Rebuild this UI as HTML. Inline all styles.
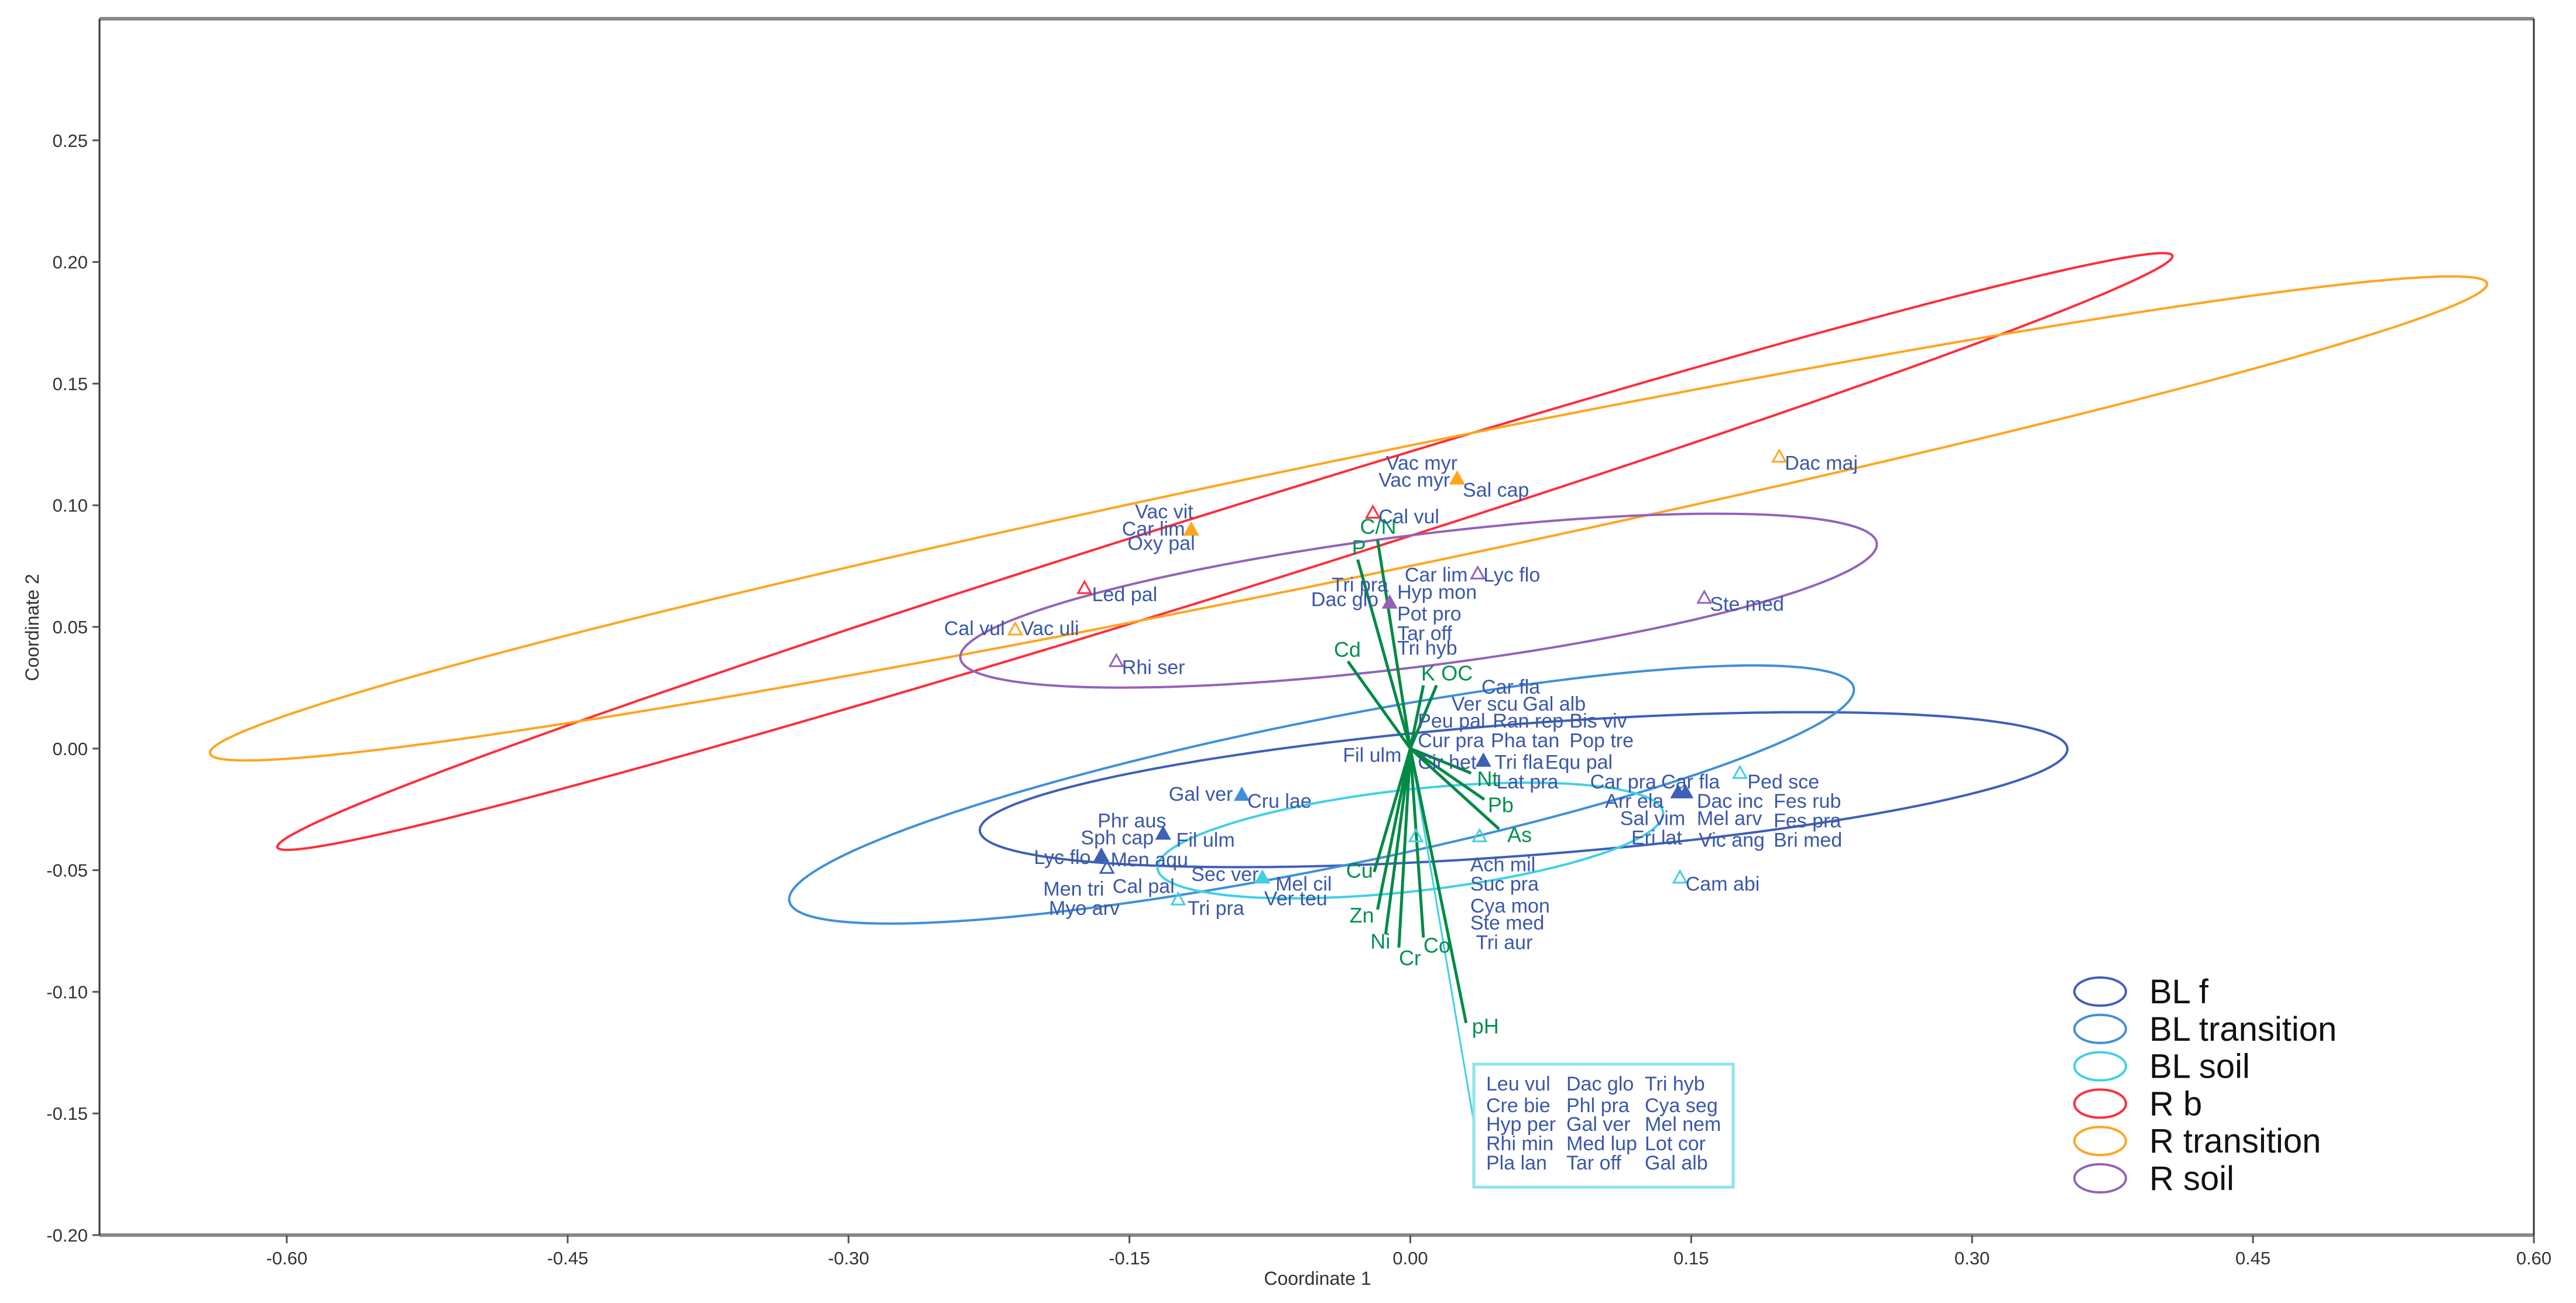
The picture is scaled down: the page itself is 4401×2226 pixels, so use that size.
<!DOCTYPE html>
<html><head><meta charset="utf-8">
<style>
html,body{margin:0;padding:0;background:#fff;}
svg{display:block;}
text{font-family:"Liberation Sans Narrow","Liberation Sans",sans-serif;}
</style></head>
<body>
<svg id="chart" width="4401" height="2226" viewBox="0 0 4401 2226" xmlns="http://www.w3.org/2000/svg">
<rect x="0" y="0" width="4401" height="2226" fill="#fff"/>
<g id="ellipses"></g>
<g id="vectors"></g>
<g id="points"></g>
<g id="labels"></g>
<g id="axes"></g>
<g id="legend"></g>
</svg>
<script>
// ---- data ----
const xTicks = [-0.60,-0.45,-0.30,-0.15,0.00,0.15,0.30,0.45,0.60];
const yTicks = [-0.20,-0.15,-0.10,-0.05,0.00,0.05,0.10,0.15,0.20,0.25];
const xTickLabels = ["-0.60","-0.45","-0.30","-0.15","0.00","0.15","0.30","0.45","0.60"];
const yTickLabels = ["-0.20","-0.15","-0.10","-0.05","0.00","0.05","0.10","0.15","0.20","0.25"];
const groupNames = ["BL f","BL transition","BL soil","R b","R transition","R soil"];
const groupColors = ["#3f5fb8","#3f90d8","#40d0e6","#ff2d3a","#ffa51e","#9462bb"];
// ellipse: center x, center y, major half-vector (dx,dy), minor half-vector (dx,dy)
const ellCx = [0.0605,-0.0474,0.000,-0.099,-0.033,0.0044];
const ellCy = [-0.0169,-0.0189,-0.0378,0.081,0.0946,0.0608];
const ellUx = [0.2904,0.2842,0.135,0.506,0.608,0.2447];
const ellUy = [0.0169,0.0439,0.0115,0.1216,0.0966,0.02365];
const ellVx = [0.0026,0.0078,0.003,0.0065,0.0064,0.0044];
const ellVy = [-0.027,-0.0298,-0.0208,-0.0161,-0.0238,-0.0268];
// env vectors
const vecNames = ["P","C/N","Cd","K","OC","Nt","Pb","As","Cu","Zn","Ni","Cr","Co","pH"];
const vecX = [-0.0281,-0.0175,-0.0333,0.007,0.014,0.0325,0.0395,0.0474,-0.0193,-0.0175,-0.0132,-0.0061,0.007,0.0298];
const vecY = [0.0777,0.0858,0.0358,0.026,0.026,-0.0101,-0.0209,-0.0331,-0.0507,-0.0662,-0.0764,-0.0818,-0.0777,-0.1128];
// species triangles: group index, x, y, filled
const triGroup = [4,4,3,4,3,4,5,5,5,5,0,2,0,0,2,2,2,1,0,0,0,2,2];
const triX = [0.025,0.197,-0.020,-0.117,-0.174,-0.211,-0.157,0.036,-0.011,0.157,0.039,0.176,0.143,0.147,0.037,0.003,0.144,-0.090,-0.132,-0.165,-0.162,-0.079,-0.124];
const triY = [0.111,0.120,0.097,0.090,0.066,0.049,0.036,0.072,0.060,0.062,-0.005,-0.010,-0.018,-0.018,-0.036,-0.036,-0.053,-0.019,-0.035,-0.044,-0.049,-0.053,-0.062];
const triFill = [1,0,0,1,0,0,0,0,1,0,1,0,1,1,0,0,0,1,1,1,0,1,0];
// species labels (anchor = left baseline)
const labText = ["Vac myr","Vac myr","Sal cap","Dac maj","Cal vul","Vac vit","Car lim","Oxy pal","Led pal","Cal vul","Vac uli","Rhi ser","Car lim","Lyc flo","Tri pra","Hyp mon","Dac glo","Pot pro","Tar off","Tri hyb","Ste med","Car fla","Ver scu","Gal alb","Peu pal","Ran rep","Bis viv","Cur pra","Pha tan","Pop tre","Fil ulm","Cir het","Tri fla","Equ pal","Lat pra","Car pra","Car fla","Ped sce","Arr ela","Dac inc","Fes rub","Sal vim","Mel arv","Fes pra","Eri lat","Vic ang","Bri med","Ach mil","Suc pra","Cya mon","Ste med","Tri aur","Cam abi","Gal ver","Cru lae","Phr aus","Sph cap","Fil ulm","Lyc flo","Men aqu","Men tri","Cal pal","Sec ver","Mel cil","Ver teu","Myo arv","Tri pra"];
const labX = [-0.013,-0.017,0.028,0.200,-0.017,-0.147,-0.154,-0.151,-0.170,-0.249,-0.208,-0.154,-0.003,0.039,-0.042,-0.007,-0.053,-0.007,-0.007,-0.007,0.160,0.038,0.022,0.060,0.004,0.044,0.085,0.004,0.043,0.085,-0.036,0.004,0.045,0.072,0.046,0.096,0.134,0.180,0.104,0.153,0.194,0.112,0.153,0.194,0.118,0.154,0.194,0.032,0.032,0.032,0.032,0.035,0.147,-0.129,-0.087,-0.167,-0.176,-0.125,-0.201,-0.160,-0.196,-0.159,-0.117,-0.072,-0.078,-0.193,-0.119];
const labY = [0.117,0.110,0.106,0.117,0.095,0.097,0.090,0.084,0.063,0.049,0.049,0.033,0.071,0.071,0.067,0.064,0.061,0.055,0.047,0.041,0.059,0.025,0.018,0.018,0.011,0.011,0.011,0.003,0.003,0.003,-0.003,-0.006,-0.006,-0.006,-0.014,-0.014,-0.014,-0.014,-0.022,-0.022,-0.022,-0.029,-0.029,-0.030,-0.037,-0.038,-0.038,-0.048,-0.056,-0.065,-0.072,-0.080,-0.056,-0.019,-0.022,-0.030,-0.037,-0.038,-0.045,-0.046,-0.058,-0.057,-0.052,-0.056,-0.062,-0.066,-0.066];
const boxRows = [["Leu vul","Dac glo","Tri hyb"],["Cre bie","Phl pra","Cya seg"],["Hyp per","Gal ver","Mel nem"],["Rhi min","Med lup","Lot cor"],["Pla lan","Tar off","Gal alb"]];

// ---- scales ----
const X0=170, X1=4329, Y0=32, Y1=2110;
const xMin=-0.70, xMax=0.60, yMin=-0.20, yMax=0.30;
function sx(v){return X0+(v-xMin)/(xMax-xMin)*(X1-X0);}
function sy(v){return Y1-(v-yMin)/(yMax-yMin)*(Y1-Y0);}
const NS="http://www.w3.org/2000/svg";
function mk(tag,attrs,parent){const e=document.createElementNS(NS,tag);for(const k in attrs)e.setAttribute(k,attrs[k]);parent.appendChild(e);return e;}
const gE=document.getElementById('ellipses'),gV=document.getElementById('vectors'),gP=document.getElementById('points'),gL=document.getElementById('labels'),gA=document.getElementById('axes'),gG=document.getElementById('legend');

// ellipses
for(let i=0;i<ellCx.length;i++){
  let d="";
  for(let k=0;k<=240;k++){const t=k/240*2*Math.PI;
    const x=ellCx[i]+Math.cos(t)*ellUx[i]+Math.sin(t)*ellVx[i];
    const y=ellCy[i]+Math.cos(t)*ellUy[i]+Math.sin(t)*ellVy[i];
    d+=(k?"L":"M")+sx(x).toFixed(1)+" "+sy(y).toFixed(1);}
  const p=mk('path',{d:d+"Z",fill:"none",stroke:groupColors[i],"stroke-width":4},gE);
  
  
}
// leader line to box + box
const ox=sx(0), oy=sy(0);
const ll=mk('line',{x1:ox,y1:oy,x2:2518,y2:1917,stroke:"#40d0e6","stroke-width":3},gV);


const bx=mk('rect',{x:2518,y:1818,width:443,height:210,fill:"#fff",stroke:"#8ee3ee","stroke-width":5},gV);


const colX=[2539,2676,2810], rowY=[1863,1900,1932,1965,1998];
boxRows.forEach((row,r)=>row.forEach((s,c)=>{
  const t=mk('text',{x:colX[c],y:rowY[r],"font-size":34,fill:"#3a57aa"},gV);t.textContent=s;
  
  
}));
// vectors
const vecOff=[[-10,-8],[-30,-10],[-24,-8],[-4,-8],[8,-8],[10,22],[6,22],[14,22],[-48,10],[-48,22],[-26,24],[0,30],[0,26],[10,18]];
for(let i=0;i<vecNames.length;i++){
  const l=mk('line',{x1:ox,y1:oy,x2:sx(vecX[i]),y2:sy(vecY[i]),stroke:"#008a45","stroke-width":5},gV);
  
  
  const t=mk('text',{x:sx(vecX[i])+vecOff[i][0],y:sy(vecY[i])+vecOff[i][1],"font-size":36,fill:"#009050"},gV);t.textContent=vecNames[i];
  
  
}
// triangles
for(let i=0;i<triX.length;i++){
  const cx=sx(triX[i]),cy=sy(triY[i]),s=11;
  const col=groupColors[triGroup[i]];
  const p=mk('polygon',{points:`${cx},${cy-s} ${cx-s},${cy+s*0.8} ${cx+s},${cy+s*0.8}`,fill:triFill[i]?col:"none",stroke:col,"stroke-width":3},gP);
  
  
}
// labels
for(let i=0;i<labText.length;i++){
  const t=mk('text',{x:sx(labX[i]),y:sy(labY[i])+10,"font-size":34,fill:"#3a57aa"},gL);t.textContent=labText[i];
  
  
}
// axes frame
let e;
e=mk('line',{x1:X0,y1:Y0,x2:X1,y2:Y0,stroke:"#888","stroke-width":6},gA);
e=mk('line',{x1:X0,y1:Y1,x2:X1,y2:Y1,stroke:"#888","stroke-width":6},gA);
e=mk('line',{x1:X0,y1:Y0,x2:X0,y2:Y1,stroke:"#333","stroke-width":3},gA);
e=mk('line',{x1:X1,y1:Y0,x2:X1,y2:Y1,stroke:"#333","stroke-width":3},gA);
for(let i=0;i<xTicks.length;i++){
  const x=sx(xTicks[i]);
  e=mk('line',{x1:x,y1:Y1,x2:x,y2:Y1+14,stroke:"#555","stroke-width":3},gA);
  const t=mk('text',{x:x,y:Y1+50,"font-size":31,fill:"#333","text-anchor":"middle"},gA);t.textContent=xTickLabels[i];
  
  
}
for(let i=0;i<yTicks.length;i++){
  const y=sy(yTicks[i]);
  e=mk('line',{x1:X0-12,y1:y,x2:X0,y2:y,stroke:"#555","stroke-width":3},gA);
  const t=mk('text',{x:X0-20,y:y+11,"font-size":31,fill:"#333","text-anchor":"end"},gA);t.textContent=yTickLabels[i];
  
  
}
let t=mk('text',{x:2251,y:2195,"font-size":32,fill:"#333","text-anchor":"middle"},gA);t.textContent="Coordinate 1";


t=mk('text',{x:0,y:0,"font-size":32,fill:"#333","text-anchor":"middle",transform:"translate(66,1072) rotate(-90)"},gA);t.textContent="Coordinate 2";


// legend
for(let i=0;i<groupNames.length;i++){
  const cy=1694+i*63.8;
  e=mk('ellipse',{cx:3588,cy:cy,rx:44,ry:24,fill:"none",stroke:groupColors[i],"stroke-width":4},gG);
  
  
  const tt=mk('text',{x:3672,y:cy+20,"font-size":58,fill:"#111"},gG);tt.textContent=groupNames[i];
  
  
}
</script>
</body></html>
